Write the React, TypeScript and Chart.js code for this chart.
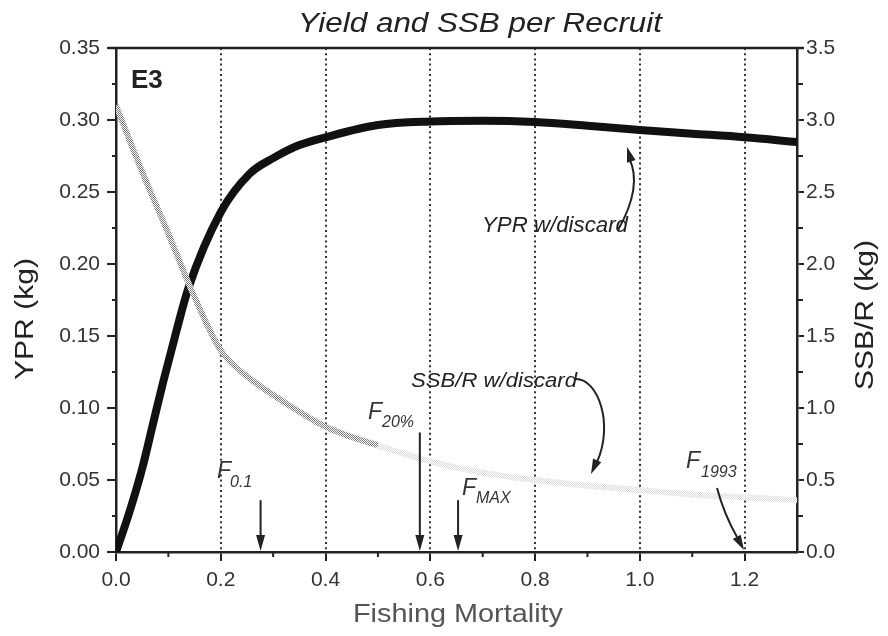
import React, { useEffect, useRef } from 'react';
import { Chart, registerables } from 'chart.js';

Chart.register(...registerables);

// ---------- data ----------
const yprF = [0, 0.025, 0.05, 0.07, 0.09, 0.115, 0.138, 0.2, 0.256, 0.3, 0.35, 0.4, 0.5, 0.6, 0.7, 0.8, 0.9, 1.0, 1.1, 1.2, 1.3];
const yprValues = [0, 0.027, 0.058, 0.088, 0.118, 0.153, 0.183, 0.236, 0.263, 0.2735, 0.2826, 0.288, 0.2965, 0.299, 0.2995, 0.2986, 0.296, 0.293, 0.2905, 0.288, 0.2847];

const ssbF = [0, 0.05, 0.1, 0.15, 0.2, 0.25, 0.3, 0.4, 0.5, 0.6, 0.7, 0.8, 0.9, 1.0, 1.1, 1.2, 1.3];
const ssbValues = [3.1, 2.64, 2.21, 1.77, 1.4, 1.22, 1.09, 0.87, 0.74, 0.63, 0.55, 0.5, 0.46, 0.43, 0.4, 0.38, 0.36];

const xTicks = [0, 0.2, 0.4, 0.6, 0.8, 1.0, 1.2];
const xMinorTicks = [0.1, 0.3, 0.5, 0.7, 0.9, 1.1];
const xGridLines = [0.2, 0.4, 0.6, 0.8, 1.0, 1.2];
const yTicks = [0, 0.05, 0.1, 0.15, 0.2, 0.25, 0.3, 0.35];
const yMinorTicks = [0.025, 0.075, 0.125, 0.175, 0.225, 0.275, 0.325];
const y2Ticks = [0, 0.5, 1.0, 1.5, 2.0, 2.5, 3.0, 3.5];
const y2MinorTicks = [0.25, 0.75, 1.25, 1.75, 2.25, 2.75, 3.25];

// reference points (F value, YPR value of arrow top)
const refNames = ['0.1', '20%', 'MAX'];
const refF = [0.276, 0.58, 0.653];
const refArrowTop = [0.036, 0.083, 0.036];

const FONT = '"Liberation Sans", Arial, Helvetica, sans-serif';

function drawText(
  ctx: CanvasRenderingContext2D,
  s: string,
  x: number,
  y: number,
  o: { size: number; style?: string; weight?: string; color?: string; align?: CanvasTextAlign; width?: number; rot?: number }
) {
  ctx.save();
  ctx.translate(x, y);
  if (o.rot) ctx.rotate(o.rot);
  ctx.font = `${o.style || 'normal'} ${o.weight || 'normal'} ${o.size}px ${FONT}`;
  ctx.fillStyle = o.color || '#222';
  ctx.textBaseline = 'alphabetic';
  ctx.textAlign = o.align || 'left';
  if (o.width) {
    const w = ctx.measureText(s).width;
    ctx.scale(o.width / w, 1);
  }
  ctx.fillText(s, 0, 0);
  ctx.restore();
}

function arrowHead(ctx: CanvasRenderingContext2D, tx: number, ty: number, dx: number, dy: number, len = 15, hw = 4.5) {
  const l = Math.hypot(dx, dy);
  const ux = dx / l, uy = dy / l;
  const bx = tx - ux * len, by = ty - uy * len;
  ctx.beginPath();
  ctx.moveTo(tx, ty);
  ctx.lineTo(bx - uy * hw, by + ux * hw);
  ctx.lineTo(bx + uy * hw, by - ux * hw);
  ctx.closePath();
  ctx.fill();
}

const decorPlugin = {
  id: 'decor',
  beforeDatasetsDraw(chart: any) {
    const { ctx, chartArea, scales } = chart;
    ctx.save();
    ctx.setLineDash([2, 3.2]);
    ctx.lineWidth = 2;
    ctx.strokeStyle = '#333';
    for (const v of xGridLines) {
      const px = Math.round(scales.x.getPixelForValue(v));
      ctx.beginPath();
      ctx.moveTo(px, chartArea.top);
      ctx.lineTo(px, chartArea.bottom);
      ctx.stroke();
    }
    ctx.restore();
  },
  afterDraw(chart: any) {
    const { ctx, chartArea, scales } = chart;
    const { left, right, top, bottom } = chartArea;
    const xs = scales.x, ys = scales.y, y2s = scales.y2;
    ctx.save();
    ctx.strokeStyle = '#222';
    ctx.fillStyle = '#222';
    // top frame line
    ctx.lineWidth = 2.5;
    ctx.beginPath();
    ctx.moveTo(left - 8, top);
    ctx.lineTo(right + 7, top);
    ctx.stroke();

    // minor ticks
    ctx.lineWidth = 2;
    for (const v of xMinorTicks) {
      const px = xs.getPixelForValue(v);
      ctx.beginPath();
      ctx.moveTo(px, bottom);
      ctx.lineTo(px, bottom + 5);
      ctx.stroke();
    }
    for (const v of yMinorTicks) {
      const py = ys.getPixelForValue(v);
      ctx.beginPath();
      ctx.moveTo(left, py);
      ctx.lineTo(left - 4, py);
      ctx.stroke();
    }
    for (const v of y2MinorTicks) {
      const py = y2s.getPixelForValue(v);
      ctx.beginPath();
      ctx.moveTo(right, py);
      ctx.lineTo(right + 6, py);
      ctx.stroke();
    }

    // straight reference arrows
    ctx.lineWidth = 2;
    refF.forEach((f, i) => {
      const px = xs.getPixelForValue(f);
      const pt = ys.getPixelForValue(refArrowTop[i]);
      ctx.beginPath();
      ctx.moveTo(px, pt);
      ctx.lineTo(px, bottom - 10);
      ctx.stroke();
      arrowHead(ctx, px, bottom - 1, 0, 1, 16, 4.5);
    });

    // curved arrow: YPR label
    ctx.beginPath();
    ctx.moveTo(618, 230);
    ctx.quadraticCurveTo(643, 186, 629, 158);
    ctx.stroke();
    arrowHead(ctx, 627, 147, -0.3, -1, 15, 4.5);

    // curved arrow: SSB/R label
    ctx.beginPath();
    ctx.moveTo(576, 379);
    ctx.bezierCurveTo(598, 379, 614, 424, 597, 462);
    ctx.stroke();
    arrowHead(ctx, 591, 474, -0.45, 1, 15, 4.5);

    // curved arrow: F1993
    ctx.beginPath();
    ctx.moveTo(717, 488);
    ctx.quadraticCurveTo(724, 514, 737, 537);
    ctx.stroke();
    arrowHead(ctx, 744, 550, 0.55, 1, 15, 4.5);

    ctx.restore();

    // texts
    drawText(ctx, 'Yield and SSB per Recruit', 480, 32, { size: 27, style: 'italic', color: '#222', align: 'center', width: 364 });
    drawText(ctx, 'Fishing Mortality', 458, 622, { size: 26, color: '#555', align: 'center', width: 210 });
    drawText(ctx, 'YPR (kg)', 33, 319, { size: 25, color: '#222', align: 'center', width: 122, rot: -Math.PI / 2 });
    drawText(ctx, 'SSB/R (kg)', 873, 315, { size: 25, color: '#222', align: 'center', width: 150, rot: -Math.PI / 2 });

    drawText(ctx, 'E3', 131, 88, { size: 26, weight: 'bold', color: '#222' });
    drawText(ctx, 'YPR w/discard', 482, 232, { size: 22, style: 'italic', color: '#222', width: 146 });
    drawText(ctx, 'SSB/R w/discard', 411, 387, { size: 21, style: 'italic', color: '#222', width: 166 });

    // F labels with subscripts
    drawText(ctx, 'F', 217, 478, { size: 23, style: 'italic', color: '#333' });
    drawText(ctx, refNames[0], 230, 487, { size: 16, style: 'italic', color: '#333' });
    drawText(ctx, 'F', 368, 419, { size: 23, style: 'italic', color: '#333' });
    drawText(ctx, refNames[1], 382, 427, { size: 16, style: 'italic', color: '#333' });
    drawText(ctx, 'F', 462, 495, { size: 23, style: 'italic', color: '#333' });
    drawText(ctx, refNames[2], 476, 503, { size: 16, style: 'italic', color: '#333' });
    drawText(ctx, 'F', 686, 468, { size: 23, style: 'italic', color: '#333' });
    drawText(ctx, '1993', 701, 477, { size: 16, style: 'italic', color: '#333' });
  },
};

export default function App() {
  const ref = useRef<HTMLCanvasElement | null>(null);
  useEffect(() => {
    const canvas = ref.current!;
    const c2d = canvas.getContext('2d')!;
    const mk = (color: string) => {
      const c = document.createElement('canvas');
      c.width = 2;
      c.height = 2;
      const g = c.getContext('2d')!;
      g.fillStyle = '#ffffff';
      g.fillRect(0, 0, 2, 2);
      g.fillStyle = color;
      g.fillRect(0, 0, 1, 1);
      g.fillRect(1, 1, 1, 1);
      return c2d.createPattern(c, 'repeat')!;
    };
    const stipple = mk('#7a7a7a');
    const faint = mk('#dadada');

    const tickFont = { family: FONT, size: 21 };
    const chart = new Chart(canvas, {
      type: 'line',
      data: {
        datasets: [
          {
            label: 'SSB/R w/discard',
            data: ssbF.map((f, i) => ({ x: f, y: ssbValues[i] })),
            yAxisID: 'y2',
            borderColor: stipple as any,
            borderWidth: 6,
            pointRadius: 0,
            cubicInterpolationMode: 'monotone',
            segment: {
              borderColor: (c: any) => (c.p0.parsed.x >= 0.5 ? faint : stipple),
            },
          } as any,
          {
            label: 'YPR w/discard',
            data: yprF.map((f, i) => ({ x: f, y: yprValues[i] })),
            yAxisID: 'y',
            borderColor: '#111',
            borderWidth: 8,
            pointRadius: 0,
            cubicInterpolationMode: 'monotone',
            borderCapStyle: 'round',
          } as any,
        ],
      },
      options: {
        responsive: false,
        animation: false,
        events: [],
        layout: { padding: { top: 48, left: 0, right: 0, bottom: 0 }, autoPadding: false } as any,
        plugins: { legend: { display: false }, tooltip: { enabled: false }, title: { display: false } },
        scales: {
          x: {
            type: 'linear',
            position: 'bottom',
            min: 0,
            max: 1.3,
            afterBuildTicks: (s: any) => { s.ticks = xTicks.map((v) => ({ value: v })); },
            afterFit: (s: any) => { s.height = 84; },
            ticks: { font: tickFont, color: '#333', padding: 7, maxRotation: 0, autoSkip: false, callback: (v: any) => Number(v).toFixed(1) },
            grid: { display: true, drawOnChartArea: false, drawTicks: true, tickLength: 9, color: '#222', lineWidth: 2 },
            border: { display: true, color: '#222', width: 2.5 },
          },
          y: {
            type: 'linear',
            position: 'left',
            min: 0,
            max: 0.35,
            afterBuildTicks: (s: any) => { s.ticks = yTicks.map((v) => ({ value: v })); },
            afterFit: (s: any) => { s.width = 116; },
            ticks: { font: tickFont, color: '#333', padding: 7, autoSkip: false, callback: (v: any) => Number(v).toFixed(2) },
            grid: { display: true, drawOnChartArea: false, drawTicks: true, tickLength: 9, color: '#222', lineWidth: 2 },
            border: { display: true, color: '#222', width: 2.5 },
          },
          y2: {
            type: 'linear',
            position: 'right',
            min: 0,
            max: 3.5,
            afterBuildTicks: (s: any) => { s.ticks = y2Ticks.map((v) => ({ value: v })); },
            afterFit: (s: any) => { s.width = 91; },
            ticks: { font: tickFont, color: '#333', padding: 2, autoSkip: false, callback: (v: any) => Number(v).toFixed(1) },
            grid: { display: true, drawOnChartArea: false, drawTicks: true, tickLength: 7, color: '#222', lineWidth: 2 },
            border: { display: true, color: '#222', width: 2.5 },
          },
        },
      },
      plugins: [decorPlugin],
    });
    return () => chart.destroy();
  }, []);

  return (
    <div style={{ position: 'fixed', left: 0, top: 0, width: 888, height: 636, background: '#fff' }}>
      <canvas ref={ref} width={888} height={636} style={{ display: 'block', width: 888, height: 636 }} />
    </div>
  );
}
